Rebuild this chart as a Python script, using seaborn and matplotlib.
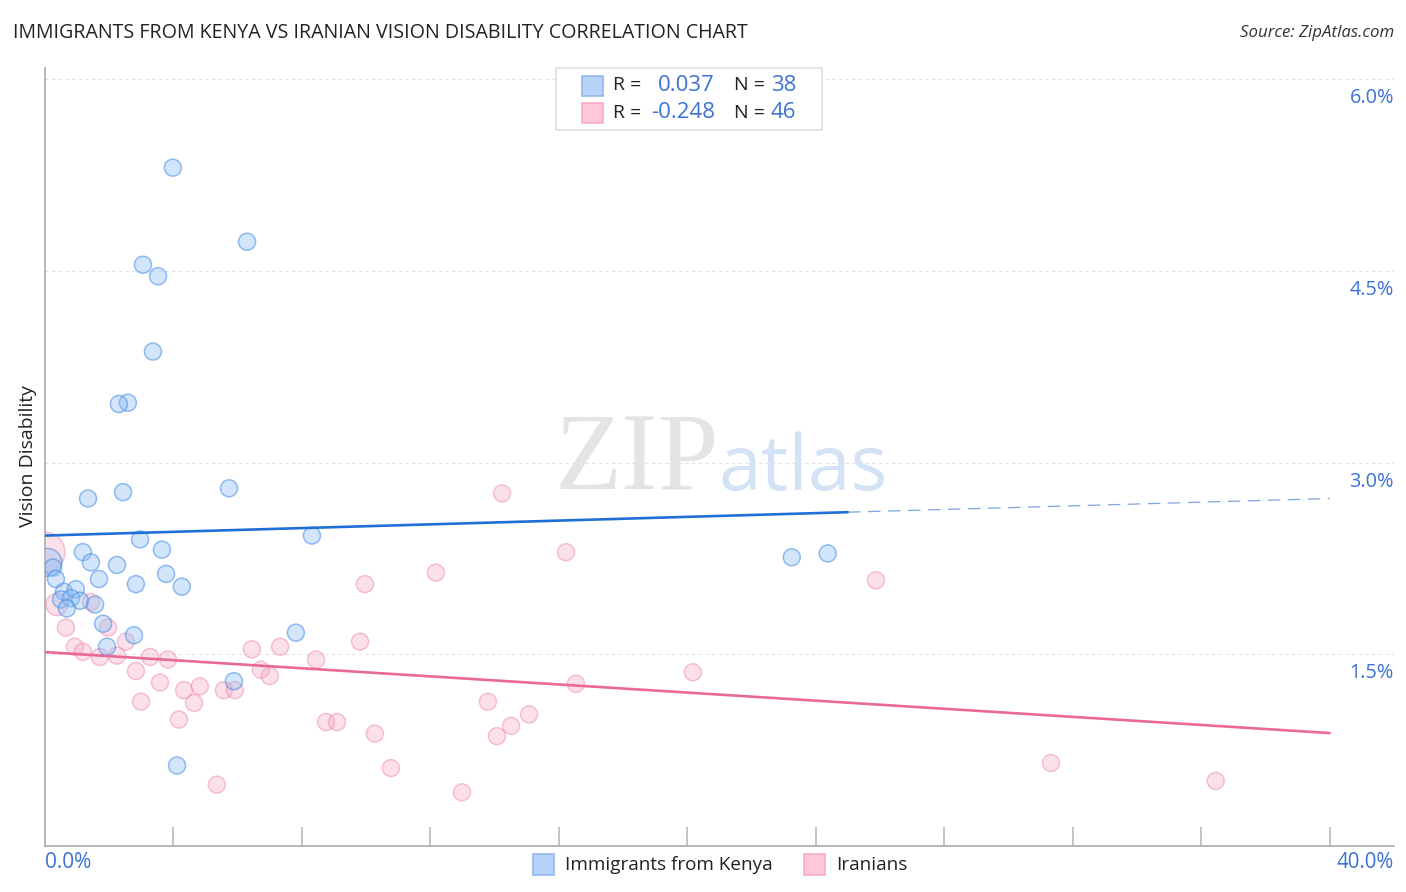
import numpy as np
import pandas as pd
import seaborn as sns
import matplotlib
matplotlib.use("Agg")
import matplotlib.pyplot as plt
from matplotlib.patches import Rectangle

# values (percent)
kenya_x = [3.98, 6.29, 3.05, 3.52, 3.36, 2.58, 2.30, 1.34, 2.43, 5.73, 8.31, 2.96, 3.64, 1.18, 1.43, 2.24, 3.77, 1.68, 2.83, 4.26,
           0.09, 0.25, 0.34, 0.59, 0.96, 0.50, 0.81, 1.09, 0.68, 1.56, 1.81, 2.77, 1.93, 7.81, 5.88, 4.11, 23.25, 24.37]
kenya_y = [5.31, 4.73, 4.55, 4.46, 3.87, 3.47, 3.46, 2.72, 2.77, 2.80, 2.43, 2.40, 2.32, 2.30, 2.22, 2.20, 2.13, 2.09, 2.05, 2.03,
           2.22, 2.18, 2.09, 1.99, 2.01, 1.93, 1.94, 1.92, 1.86, 1.89, 1.74, 1.65, 1.56, 1.67, 1.29, 0.63, 2.26, 2.29]
iran_x = [0.00, 0.37, 1.43, 0.65, 1.96, 2.52, 0.93, 1.18, 1.71, 2.24, 3.27, 3.83, 2.83, 3.58, 4.33, 4.82, 2.99, 4.64, 4.17, 5.57, 5.91, 6.44, 7.32,
          6.72, 7.00, 8.44, 9.81, 9.96, 8.75, 9.09, 10.27, 5.35, 10.77, 12.98, 14.23, 16.22, 12.17, 13.79, 14.07, 14.51, 15.07, 16.53, 20.17, 25.87, 31.32, 36.45]
iran_y = [2.30, 1.89, 1.91, 1.71, 1.71, 1.60, 1.56, 1.52, 1.48, 1.49, 1.48, 1.46, 1.37, 1.28, 1.22, 1.25, 1.13, 1.12, 0.99, 1.22, 1.22, 1.54, 1.56,
          1.38, 1.33, 1.46, 1.60, 2.05, 0.97, 0.97, 0.88, 0.48, 0.61, 0.42, 2.76, 2.30, 2.14, 1.13, 0.86, 0.94, 1.03, 1.27, 1.36, 2.08, 0.65, 0.51]
kenya_big = [0.09]

kenya_fit_x = [0, 25]
kenya_fit_y = [2.43, 2.613]
kenya_ext_x = [25, 40]
kenya_ext_y = [2.613, 2.72]
iran_fit_x = [0, 40]
iran_fit_y = [1.518, 0.884]

y_ticks = [1.5, 3.0, 4.5, 6.0]
x_ticks = [4, 8, 12, 16, 20, 24, 28, 32, 36, 40]

W, H = 1406, 892
TEXT = "#222222"
BLUE = "#3b72d6"
FONT = "Open Sans"

sns.set_style("white")
plt.rcParams["font.family"] = [FONT, "DejaVu Sans"]

fig = plt.figure(figsize=(W / 100, H / 100), dpi=100)
ax = fig.add_axes([45 / W, (H - 846) / H, (1394 - 45) / W, (846 - 68) / H])
ax.set_xlim(0, 42)
ax.set_ylim(0, 6.09)


# figure pixel helpers, y counted from the top like in the reference
def fx(p):
    return p / W


def fy(p):
    return (H - p) / H


for t in y_ticks:
    ax.axhline(t, color="#e2e2e2", lw=0.8, ls=(0, (3, 3)), zorder=0)

df_k = pd.DataFrame({"x": kenya_x, "y": kenya_y})
df_k["s"] = [400 if v in kenya_big else 150 for v in df_k["x"]]
df_i = pd.DataFrame({"x": iran_x, "y": iran_y})
df_i["s"] = [150 for v in iran_x]
df_i.loc[0, "s"] = 830
df_i.loc[1, "s"] = 250

sns.scatterplot(data=df_i, x="x", y="y", s=df_i["s"], color=(0.97, 0.66, 0.76, 0.35),
                edgecolor=(0.93, 0.50, 0.66, 0.45), linewidth=1.1, ax=ax, zorder=3)
sns.scatterplot(data=df_k, x="x", y="y", s=df_k["s"], color=(0.55, 0.74, 0.95, 0.38),
                edgecolor=(0.25, 0.55, 0.90, 0.55), linewidth=1.1, ax=ax, zorder=4)
for coll in ax.collections:
    coll.set_clip_on(True)
    coll.set_clip_path(ax.patch)

sns.lineplot(x=kenya_fit_x, y=kenya_fit_y, color="#1f6fd6", lw=1.9, ax=ax, zorder=5)
sns.lineplot(x=kenya_ext_x, y=kenya_ext_y, color="#7ea6de", lw=0.9, ax=ax, zorder=5, dashes=False, ls=(0, (10, 6)))
sns.lineplot(x=iran_fit_x, y=iran_fit_y, color="#e8689a", lw=1.9, ax=ax, zorder=5)

ax.set_xlabel("")
ax.set_ylabel("Vision Disability", fontsize=14, color=TEXT, labelpad=0)
ax.yaxis.set_label_coords((37 - 45) / (1394 - 45), (846 - 456) / (846 - 68))

ax.set_xticks(x_ticks)
ax.set_xticklabels([])
ax.set_yticks([])
ax.tick_params(axis="x", direction="in", length=13.7, width=1.1, color="#b4b4b4", bottom=True)
for s in ["top", "right"]:
    ax.spines[s].set_visible(False)
for s in ["left", "bottom"]:
    ax.spines[s].set_color("#aaaaaa")
    ax.spines[s].set_linewidth(1.2)

# tick labels sit inside the plot on the right side
for t in y_ticks:
    fig.text(fx(1394), fy(846 - t * 127.8 + 19), f"{t:.1f}%", ha="right", va="center", fontsize=14.3, color=BLUE)
fig.text(fx(45), fy(863), "0.0%", ha="left", va="center", fontsize=15, color=BLUE)
fig.text(fx(1394), fy(863), "40.0%", ha="right", va="center", fontsize=14.8, color=BLUE)

fig.text(fx(13), fy(33), "IMMIGRANTS FROM KENYA VS IRANIAN VISION DISABILITY CORRELATION CHART",
         ha="left", va="center", fontsize=14.1, color=TEXT)
fig.text(fx(1394), fy(33), "Source: ZipAtlas.com", ha="right", va="center", fontsize=12.2, style="italic", color="#333333")

# watermark
fig.text(fx(555), fy(490), "ZIP", ha="left", va="baseline", fontsize=79, family="Liberation Serif", color="#e4e4e4", zorder=1)
fig.text(fx(718), fy(490), "atlas", ha="left", va="baseline", fontsize=55.5, color="#d4e2f6", zorder=1)

# stats box
fig.add_artist(Rectangle((fx(555.5), fy(130)), 266 / W, 62 / H, transform=fig.transFigure, fc="white", ec="#dddddd", lw=1.1, zorder=6))
rows = [(85.5, "#b8d3f8", "#8ab4e8", "0.037", "38"), (113, "#fcc8d9", "#f5a8c0", "-0.248", "46")]
for yy, fc, ec, r, n in rows:
    fig.add_artist(Rectangle((fx(581.5), fy(yy + 10)), 21 / W, 20 / H, transform=fig.transFigure, fc=fc, ec=ec, lw=1.1, zorder=7))
    fig.text(fx(613), fy(yy), "R =", ha="left", va="center", fontsize=14, color=TEXT, zorder=7)
    fig.text(fx(715), fy(yy), r, ha="right", va="center", fontsize=16, color=BLUE, zorder=7)
    fig.text(fx(734), fy(yy), "N =", ha="left", va="center", fontsize=14, color=TEXT, zorder=7)
    fig.text(fx(796), fy(yy), n, ha="right", va="center", fontsize=16, color=BLUE, zorder=7)

# bottom legend
for px, fc, ec, label in [(533, "#b8d3f8", "#8ab4e8", "Immigrants from Kenya"), (804, "#fcc8d9", "#f5a8c0", "Iranians")]:
    fig.add_artist(Rectangle((fx(px), fy(875)), 21 / W, 21 / H, transform=fig.transFigure, fc=fc, ec=ec, lw=1.1))
    fig.text(fx(px + 32), fy(864.5), label, ha="left", va="center", fontsize=13.6, color=TEXT)

fig.savefig("out.png", dpi=100)
